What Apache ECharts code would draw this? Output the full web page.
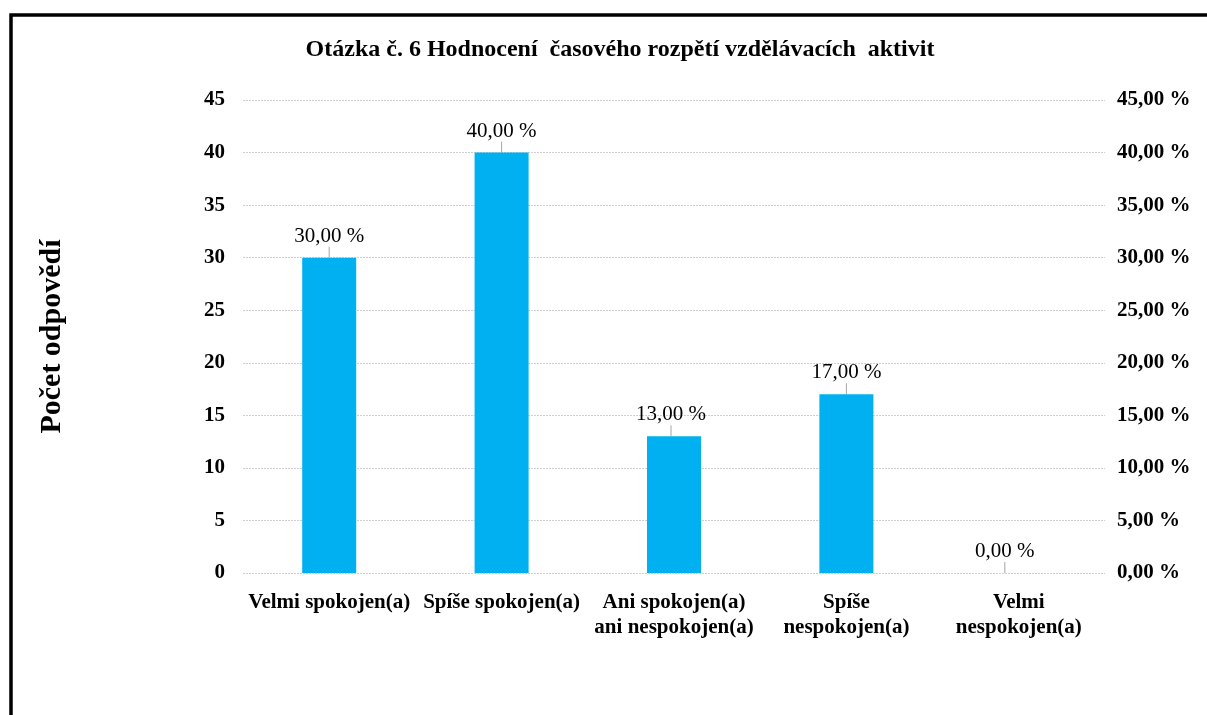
<!DOCTYPE html>
<html>
<head>
<meta charset="utf-8">
<style>
  html, body { margin: 0; padding: 0; background: #fff; }
  #chart { width: 1207px; height: 715px; }
</style>
<script src="https://cdn.jsdelivr.net/npm/echarts@6/dist/echarts.min.js"></script>
</head>
<body>
<div id="chart"></div>
<script>
(function () {

    // data
    var categories = ['Velmi spokojen(a)', 'Spíše spokojen(a)', 'Ani spokojen(a)\nani nespokojen(a)', 'Spíše\nnespokojen(a)', 'Velmi\nnespokojen(a)'];
    var counts = [30, 40, 13, 17, 0];
    var percents = [30, 40, 13, 17, 0];
    var leftTicks = { min: 0, max: 45, interval: 5 };
    var rightTicks = { min: 0, max: 45, interval: 5 };

    var serif = '"Liberation Serif", "DejaVu Serif", serif';

    var fmtPct = function (v) {
        return v.toFixed(2).replace('.', ',') + ' %';
    };

    var seriesData = counts.map(function (c, i) {
        return { value: c, pct: percents[i] };
    });

    var option = {
        animation: false,
        backgroundColor: '#fff',
        title: {
            text: 'Otázka č. 6 Hodnocení  časového rozpětí vzdělávacích  aktivit',
            left: 615,
            textAlign: 'center',
            top: 33,
            textStyle: { fontFamily: serif, fontWeight: 'bold', fontSize: 24, color: '#000' }
        },
        graphic: [{
            type: 'rect',
            shape: { x: 11, y: 15, width: 1260, height: 800 },
            style: { fill: 'none', stroke: '#000', lineWidth: 3.5 },
            silent: true
        }],
        grid: { left: 243, right: 102, top: 100, bottom: 142 },
        xAxis: {
            type: 'category',
            data: categories,
            axisLine: { show: false },
            axisTick: { show: false },
            axisLabel: {
                interval: 0,
                margin: 17,
                lineHeight: 25,
                fontFamily: serif, fontWeight: 'bold', fontSize: 21, color: '#000'
            }
        },
        yAxis: [{
            type: 'value',
            min: leftTicks.min, max: leftTicks.max, interval: leftTicks.interval,
            name: 'Počet odpovědí',
            nameLocation: 'middle',
            nameGap: 176,
            nameRotate: 90,
            nameTextStyle: { fontFamily: serif, fontWeight: 'bold', fontSize: 30, color: '#000' },
            axisLine: { show: false },
            axisTick: { show: false },
            axisLabel: { margin: 18, fontFamily: serif, fontWeight: 'bold', fontSize: 21, color: '#000' },
            splitLine: { lineStyle: { color: '#cfcfcf', type: [2, 1], width: 1 } }
        }, {
            type: 'value',
            min: rightTicks.min, max: rightTicks.max, interval: rightTicks.interval,
            position: 'right',
            axisLine: { show: false },
            axisTick: { show: false },
            splitLine: { show: false },
            axisLabel: {
                margin: 12,
                fontFamily: serif, fontWeight: 'bold', fontSize: 21, color: '#000',
                formatter: function (v) { return v.toFixed(2).replace('.', ',') + ' %'; }
            }
        }],
        series: [{
            type: 'bar',
            data: seriesData,
            barWidth: 54,
            itemStyle: { color: '#00b0f0' },
            label: {
                show: true,
                position: 'top',
                distance: 4,
                fontFamily: serif, fontSize: 21, color: '#000',
                formatter: function (p) { return fmtPct(p.data.pct); }
            },
            labelLayout: function (params) {
                var dx = params.dataIndex === 4 ? -14 : (params.dataIndex === 2 ? -3 : 0);
                return { dx: dx, dy: -7 };
            },
            labelLine: { show: true, lineStyle: { color: '#a6a6a6', width: 1 } }
        }]
    };

    var chart = echarts.init(document.getElementById('chart'));
    chart.setOption(option);
})();
</script>
</body>
</html>
